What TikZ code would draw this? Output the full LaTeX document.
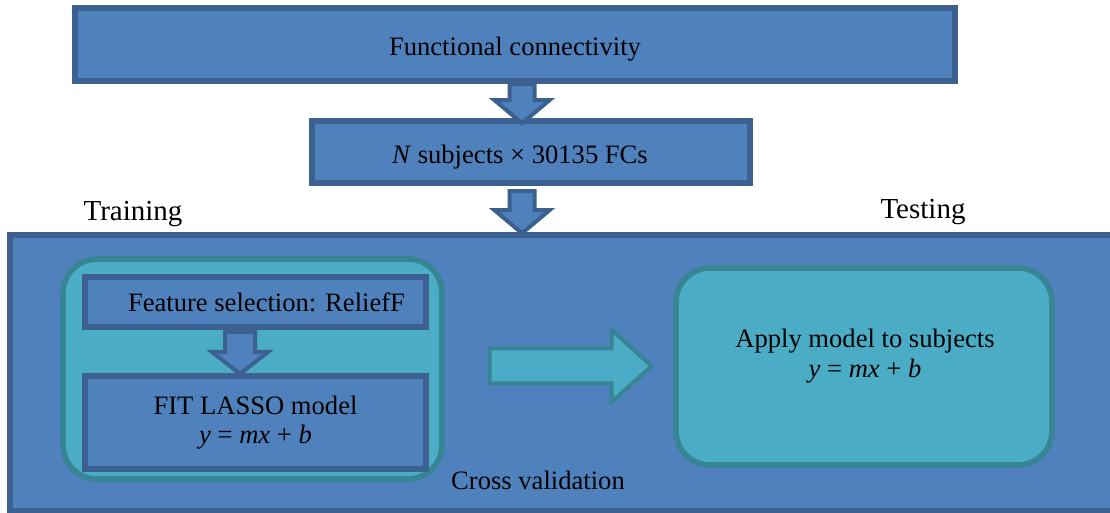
\documentclass[tikz,border=0pt]{standalone}
\usepackage{fontspec}
\setmainfont{Liberation Serif}
\newfontfamily\boxfont{Liberation Serif}
\usetikzlibrary{shapes.arrows}

\definecolor{boxblue}{HTML}{4F81BD}
\definecolor{lineblue}{HTML}{3C6090}
\definecolor{boxteal}{HTML}{4BACC6}
\definecolor{lineteal}{HTML}{378594}

\tikzset{
    boxtext/.style={font=\boxfont\fontsize{13.3}{14.5}\selectfont,align=center},
    bluebox/.style={rectangle,draw=lineblue,fill=boxblue,line width=2.8pt,inner sep=0pt,boxtext},
    tealbox/.style={rectangle,draw=lineteal,fill=boxteal,line width=2.8pt,rounded corners=17pt,inner sep=0pt},
    downarrow/.style={single arrow,draw=lineblue,fill=boxblue,line width=2pt,inner xsep=0pt,
        rotate=-90,single arrow head indent=0pt},
    rightarrow/.style={single arrow,draw=lineteal,fill=boxteal,line width=2pt,inner xsep=0pt,
        single arrow head indent=0pt},
    steplabel/.style={font=\boxfont\fontsize{14.5}{16}\selectfont}
}

\begin{document}
\begin{tikzpicture}[x=0.5pt,y=-0.5pt]
    \useasboundingbox (0,0) rectangle (1110,513);

    % big box round training and testing
    \node[bluebox,line width=3pt,minimum width=565pt,minimum height=138pt] (cv) at (575,373) {};

    % top row
    \node[bluebox,minimum width=440pt,minimum height=36.5pt] (fc) at (515,44.5)
        {\raisebox{-2.5pt}[\height][\depth]{Functional connectivity}};
    \node[bluebox,minimum width=219pt,minimum height=31pt] (subj) at (531,152)
        {\raisebox{-2.5pt}[\height][\depth]{\textit{N} subjects × 30135 FCs}\kern11pt};
    \node[downarrow,inner ysep=5.25pt,minimum width=25.5pt,minimum height=19.5pt,single arrow head extend=7.5pt,
        single arrow tip angle=100] (ar1) at (522,98.5) {};
    \node[downarrow,inner ysep=5.25pt,minimum width=25.5pt,minimum height=21pt,single arrow head extend=7.5pt,
        single arrow tip angle=100] (ar2) at (522,207) {};

    \node[steplabel] (train) at (133,214) {Training};
    \node[steplabel] (test) at (923,212) {Testing};

    % training side
    \node[tealbox,minimum width=189.5pt,minimum height=110pt] (fold) at (252.5,369) {};
    \node[bluebox,minimum width=170.5pt,minimum height=25pt] (feat) at (255.5,302)
        {\kern11pt Feature selection: ReliefF};
    \node[bluebox,minimum width=170.5pt,minimum height=46.5pt] (lasso) at (255.5,422.5)
        {FIT LASSO model\\\textit{y} = \textit{mx} + \textit{b}};
    \node[downarrow,inner ysep=6.5pt,minimum width=26pt,minimum height=21pt,single arrow head extend=6.5pt,
        single arrow tip angle=104] (ar3) at (240,347) {};

    % testing side
    \node[rightarrow,inner ysep=7.75pt,minimum width=34pt,minimum height=81pt,single arrow head extend=9.25pt,
        single arrow tip angle=84] (ar4) at (561,366) {};
    \node[tealbox,minimum width=188pt,minimum height=98.5pt] (apply) at (864,366.5) {};
    \node[boxtext,font=\boxfont\fontsize{13.3}{15}\selectfont] (applytext) at (865,356)
        {Apply model to subjects\\\textit{y} = \textit{mx} + \textit{b}};

    \node[boxtext] (cvtext) at (538,480) {Cross validation};
\end{tikzpicture}
\end{document}
